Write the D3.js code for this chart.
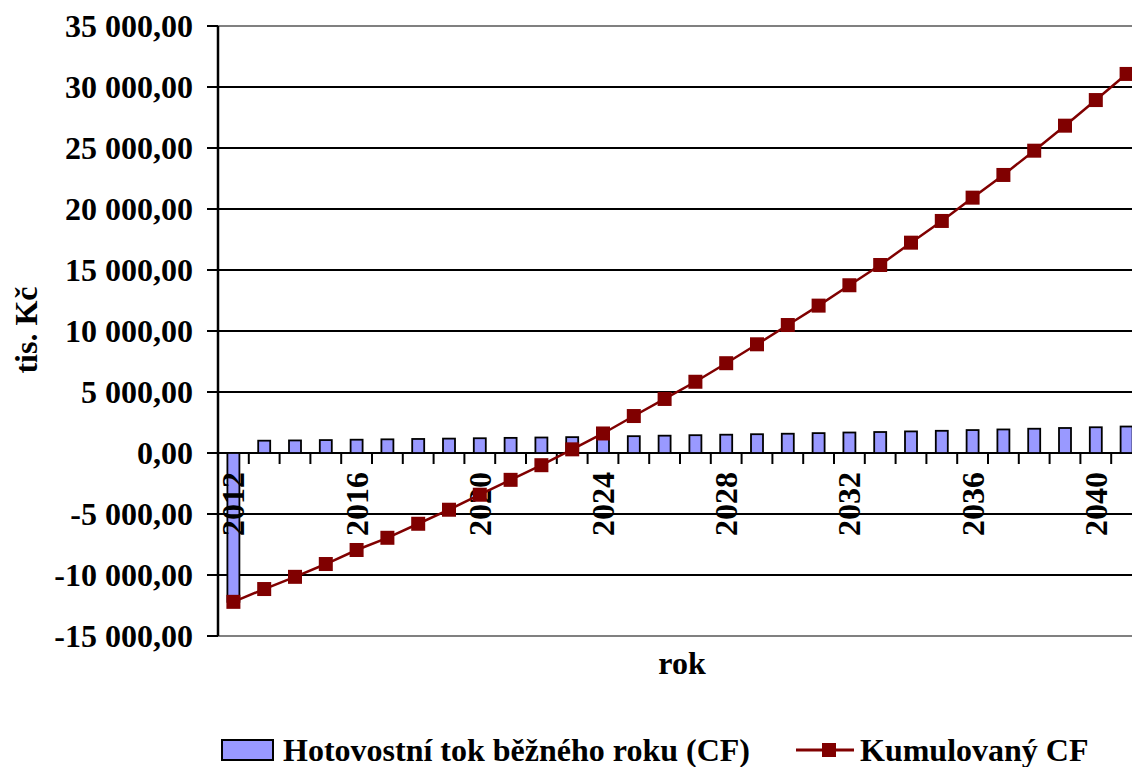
<!DOCTYPE html>
<html>
<head>
<meta charset="utf-8">
<script src="https://cdn.jsdelivr.net/npm/d3@7/dist/d3.min.js"></script>
<style>
  html, body { margin: 0; padding: 0; background: #fff; }
  svg { display: block; }
  text { font-family: "Liberation Serif", "Times New Roman", serif; font-weight: bold; fill: #000; }
</style>
</head>
<body>
<svg id="chart" width="1132" height="767"></svg>
<script>
// Years on the category axis
const years = [2012, 2013, 2014, 2015, 2016, 2017, 2018, 2019, 2020, 2021,
               2022, 2023, 2024, 2025, 2026, 2027, 2028, 2029, 2030, 2031,
               2032, 2033, 2034, 2035, 2036, 2037, 2038, 2039, 2040, 2041];

// Cash flow of the current year (tis. Kč)
const cashFlow = [-12200, 1010, 1030, 1060, 1090, 1120, 1150, 1180, 1210, 1240,
                  1270, 1300, 1340, 1380, 1420, 1460, 1500, 1540, 1580, 1630,
                  1680, 1720, 1770, 1820, 1880, 1930, 1990, 2050, 2110, 2170];

// Cumulative cash flow (tis. Kč)
const cumulative = [-12200, -11150, -10150, -9100, -7950, -6950, -5800, -4650, -3420, -2200,
                    -1000, 300, 1600, 3030, 4430, 5840, 7360, 8910, 10490, 12080,
                    13750, 15410, 17240, 19020, 20930, 22790, 24780, 26830, 28930, 31070];

// Value axis ticks and labelled years
const yTicks = [-15000, -10000, -5000, 0, 5000, 10000, 15000, 20000, 25000, 30000, 35000];
const labelledYears = [2012, 2016, 2020, 2024, 2028, 2032, 2036, 2040];

const seriesNames = ["Hotovostní tok běžného roku (CF)", "Kumulovaný CF"];
const axisTitles = { y: "tis. Kč", x: "rok" };

const barFill = "#9999FF";
const lineColor = "#800000";

const svg = d3.select("#chart");
const plotLeft = 218, plotTop = 26, plotBottom = 636, bandW = 30.8;
const plotRight = plotLeft + bandW * years.length;

const x = d3.scaleBand().domain(years).range([plotLeft, plotRight]).padding(0);
const y = d3.scaleLinear().domain([-15000, 35000]).range([plotBottom, plotTop]);

const fmt = v => {
  const s = d3.format(",.2f")(v);
  return s.replace(/,/g, " ").replace(".", ",").replace("−", "-");
};

// Horizontal gridlines
svg.append("g").selectAll("line")
  .data(yTicks.filter(t => t !== -15000 && t !== 35000))
  .join("line")
  .attr("x1", plotLeft).attr("x2", plotRight)
  .attr("y1", d => y(d)).attr("y2", d => y(d))
  .attr("stroke", "#000").attr("stroke-width", 2);

// Plot area border (top and bottom)
svg.append("g").selectAll("line")
  .data([35000, -15000])
  .join("line")
  .attr("x1", plotLeft).attr("x2", plotRight)
  .attr("y1", d => y(d)).attr("y2", d => y(d))
  .attr("stroke", "#808080").attr("stroke-width", 2);

// Category axis at zero with tick marks between years
const xAxisG = svg.append("g");
xAxisG.append("line")
  .attr("x1", plotLeft).attr("x2", plotRight)
  .attr("y1", y(0)).attr("y2", y(0))
  .attr("stroke", "#000").attr("stroke-width", 2);
xAxisG.selectAll("line.tick")
  .data(years)
  .join("line").attr("class", "tick")
  .attr("x1", d => x(d) + x.bandwidth()).attr("x2", d => x(d) + x.bandwidth())
  .attr("y1", y(0)).attr("y2", y(0) + 11)
  .attr("stroke", "#000").attr("stroke-width", 2);

// Bars: yearly cash flow
const barW = 12;
svg.append("g").selectAll("rect")
  .data(years.map((yr, i) => ({ yr, v: cashFlow[i] })))
  .join("rect")
  .attr("x", d => x(d.yr) + x.bandwidth() / 2 - barW / 2)
  .attr("width", barW)
  .attr("y", d => Math.min(y(d.v), y(0)))
  .attr("height", d => Math.abs(y(d.v) - y(0)))
  .attr("fill", barFill)
  .attr("stroke", "#000").attr("stroke-width", 1.8);

// Year labels, rotated
svg.append("g").selectAll("text")
  .data(labelledYears)
  .join("text")
  .attr("transform", d => `translate(${x(d) + x.bandwidth() / 2 + 11},${y(0) + 19}) rotate(-90)`)
  .attr("text-anchor", "end")
  .style("font-size", "32px")
  .text(d => d);

// Value axis
const yAxisG = svg.append("g");
yAxisG.append("line")
  .attr("x1", plotLeft).attr("x2", plotLeft)
  .attr("y1", plotTop).attr("y2", plotBottom)
  .attr("stroke", "#000").attr("stroke-width", 2.5);
yAxisG.selectAll("line.tick")
  .data(yTicks)
  .join("line").attr("class", "tick")
  .attr("x1", plotLeft - 11).attr("x2", plotLeft)
  .attr("y1", d => y(d)).attr("y2", d => y(d))
  .attr("stroke", "#000").attr("stroke-width", 2);
yAxisG.selectAll("text")
  .data(yTicks)
  .join("text")
  .attr("x", 193)
  .attr("y", d => y(d) + 11)
  .attr("text-anchor", "end")
  .style("font-size", "32px")
  .text(d => fmt(d));

// Cumulative line with square markers
const pts = years.map((yr, i) => ({ yr, v: cumulative[i] }));
const line = d3.line().x(d => x(d.yr) + x.bandwidth() / 2).y(d => y(d.v));
svg.append("path")
  .datum(pts)
  .attr("d", line)
  .attr("fill", "none")
  .attr("stroke", lineColor).attr("stroke-width", 2.5);
const m = 14;
svg.append("g").selectAll("rect")
  .data(pts)
  .join("rect")
  .attr("x", d => x(d.yr) + x.bandwidth() / 2 - m / 2)
  .attr("y", d => y(d.v) - m / 2)
  .attr("width", m).attr("height", m)
  .attr("fill", lineColor);

// Axis titles
svg.append("text")
  .attr("transform", "translate(37,330) rotate(-90)")
  .attr("text-anchor", "middle")
  .style("font-size", "32px")
  .text(axisTitles.y);
svg.append("text")
  .attr("x", 682).attr("y", 674)
  .attr("text-anchor", "middle")
  .style("font-size", "32px")
  .text(axisTitles.x);

// Legend
const lg = svg.append("g");
lg.append("rect")
  .attr("x", 222).attr("y", 740).attr("width", 51).attr("height", 20)
  .attr("fill", barFill).attr("stroke", "#000").attr("stroke-width", 2);
lg.append("text")
  .attr("x", 283).attr("y", 761)
  .style("font-size", "32px")
  .text(seriesNames[0]);
lg.append("line")
  .attr("x1", 796).attr("x2", 854).attr("y1", 750).attr("y2", 750)
  .attr("stroke", lineColor).attr("stroke-width", 3);
lg.append("rect")
  .attr("x", 829 - m / 2).attr("y", 750 - m / 2).attr("width", m).attr("height", m)
  .attr("fill", lineColor);
lg.append("text")
  .attr("x", 860).attr("y", 761)
  .style("font-size", "32px")
  .text(seriesNames[1]);
</script>
</body>
</html>
